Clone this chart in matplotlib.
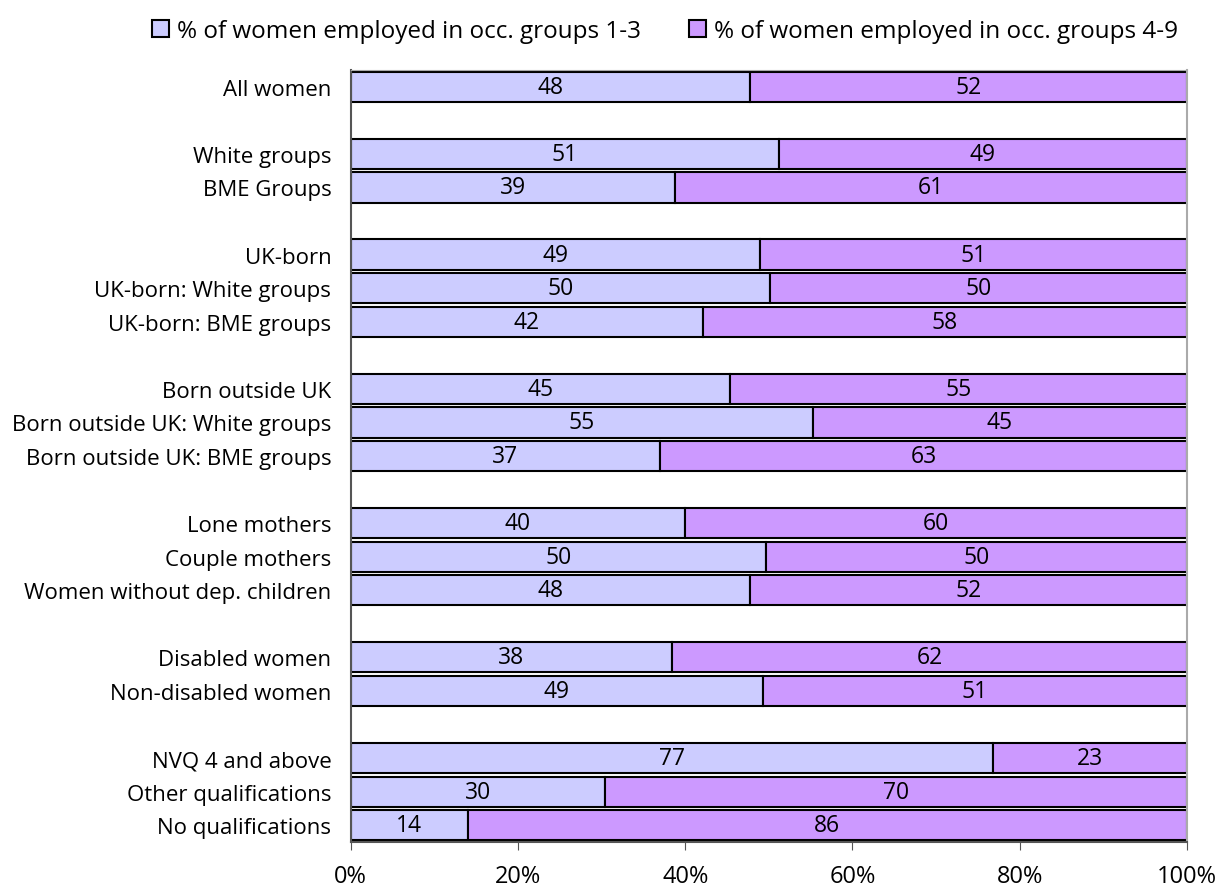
import numpy as np
import matplotlib
matplotlib.use('Agg')
import matplotlib.pyplot as plt
from matplotlib.patches import Patch

plt.rcParams['font.family'] = ['Open Sans', 'DejaVu Sans']
plt.rcParams['font.size'] = 16

# groups of rows, separated by an empty row
group_sizes = [1, 2, 3, 3, 3, 2, 3]
categories = [
    'All women',
    'White groups', 'BME Groups',
    'UK-born', 'UK-born: White groups', 'UK-born: BME groups',
    'Born outside UK', 'Born outside UK: White groups', 'Born outside UK: BME groups',
    'Lone mothers', 'Couple mothers', 'Women without dep. children',
    'Disabled women', 'Non-disabled women',
    'NVQ 4 and above', 'Other qualifications', 'No qualifications',
]
# share of employed women in occupation groups 1-3 (%)
occ_1_3 = [47.8,
           51.2, 38.8,
           48.9, 50.1, 42.1,
           45.4, 55.3, 37.0,
           40.0, 49.6, 47.8,
           38.4, 49.3,
           76.8, 30.4, 14.0]
# remainder: occupation groups 4-9 (%)
occ_4_9 = [100 - v for v in occ_1_3]

series_names = ['% of women employed in occ. groups 1-3',
                '% of women employed in occ. groups 4-9']
colors = ['#CCCCFF', '#CC99FF']

# row positions with a blank row after each group
ypos = []
row = 0
for n in group_sizes:
    ypos.extend(range(row, row + n))
    row += n + 1
nrows = row - 1

fig = plt.figure(figsize=(12.18, 8.87), dpi=100)
ax = fig.add_axes([0.288, 0.0496, 0.6865, 0.8704])

h = 0.9
b1 = ax.barh(ypos, occ_1_3, height=h, color=colors[0], edgecolor='black', linewidth=1.5)
b2 = ax.barh(ypos, occ_4_9, left=occ_1_3, height=h, color=colors[1],
             edgecolor='black', linewidth=1.5)
ax.bar_label(b1, labels=['%.0f' % v for v in occ_1_3], label_type='center', fontsize=16.5)
ax.bar_label(b2, labels=['%.0f' % v for v in occ_4_9], label_type='center', fontsize=16.5)

ax.set_xlim(0, 100)
ax.set_ylim(nrows - 0.5, -0.5)
ax.set_yticks(ypos)
ax.set_yticklabels(categories)
ax.tick_params(axis='y', length=0, pad=14)
ax.set_xticks(np.arange(0, 101, 20))
ax.set_xticklabels(['%d%%' % t for t in range(0, 101, 20)], fontsize=17)
ax.tick_params(axis='x', length=6, color='#555555', pad=10)

ax.spines['left'].set_color('#555555')
ax.spines['left'].set_linewidth(1.5)
ax.spines['bottom'].set_color('#555555')
ax.spines['bottom'].set_linewidth(1.5)
ax.spines['top'].set_color('#aaaaaa')
ax.spines['right'].set_color('#aaaaaa')
ax.spines['right'].set_linewidth(1.5)

handles = [Patch(facecolor=c, edgecolor='black', linewidth=1.5) for c in colors]
fig.legend(handles, series_names, loc='center', bbox_to_anchor=(0.546, 0.964),
           ncol=2, frameon=False, fontsize=17.5, handlelength=0.7, handleheight=0.7,
           handletextpad=0.33, columnspacing=2.0)

fig.savefig('out.png', dpi=100)
